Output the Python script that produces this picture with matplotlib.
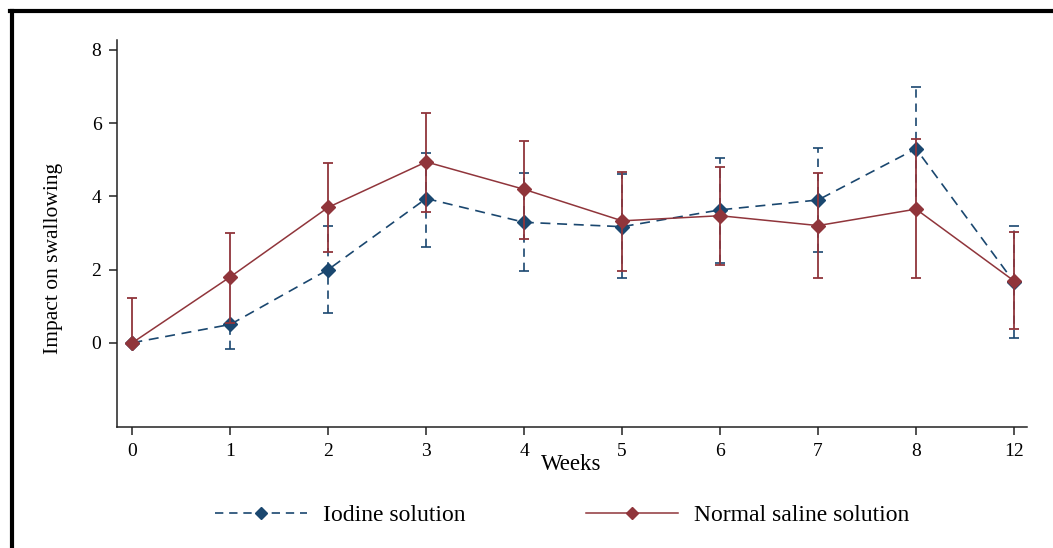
import numpy as np
import matplotlib
matplotlib.use('Agg')
from matplotlib import pyplot as plt
from matplotlib.lines import Line2D

weeks = ['0', '1', '2', '3', '4', '5', '6', '7', '8', '12']

iodine_mean = [0.0, 0.50, 2.00, 3.94, 3.29, 3.17, 3.63, 3.90, 5.30, 1.66]
iodine_low = [0.0, 0.68, 1.20, 1.32, 1.32, 1.41, 1.44, 1.41, 1.69, 1.54]
iodine_high = [0.0, 0.0, 1.20, 1.25, 1.35, 1.44, 1.41, 1.41, 1.69, 1.53]

saline_mean = [0.0, 1.80, 3.70, 4.94, 4.19, 3.33, 3.47, 3.20, 3.65, 1.69]
saline_low = [0.0, 1.25, 1.22, 1.36, 1.36, 1.37, 1.35, 1.44, 1.89, 1.32]
saline_high = [1.21, 1.21, 1.22, 1.34, 1.33, 1.34, 1.34, 1.45, 1.91, 1.34]

blue = '#1a476f'
red = '#90353b'

plt.rcParams['font.family'] = ['Liberation Serif', 'DejaVu Serif']

fig = plt.figure(figsize=(10.53, 5.48), dpi=100)
ax = fig.add_axes([116.7/1053, 1 - 427.3/548, 910/1053, 387.3/548])

x = np.arange(len(weeks))

eb1 = ax.errorbar(x, iodine_mean, yerr=[iodine_low, iodine_high], color=blue,
                  ecolor=blue, linestyle=(0, (6, 4)), linewidth=1.2,
                  marker='D', markersize=7, capsize=3.8, elinewidth=1.2,
                  capthick=1.2, zorder=2)
eb1[2][0].set_linestyle((0, (5, 3.5)))

ax.errorbar(x, saline_mean, yerr=[saline_low, saline_high], color=red,
            ecolor=red, linestyle='-', linewidth=1.1, marker='D',
            markersize=7, capsize=3.8, elinewidth=1.3, capthick=1.3, zorder=3)

ax.set_xlim(-0.16, 9.13)
ax.set_ylim(-2.31, 8.27)
ax.set_xticks(x)
ax.set_xticklabels(weeks)
ax.set_yticks([0, 2, 4, 6, 8])
ax.tick_params(axis='both', labelsize=14, length=6, width=1.1, color='#222222', pad=5)
for s in ['top', 'right']:
    ax.spines[s].set_visible(False)
for s in ['left', 'bottom']:
    ax.spines[s].set_linewidth(1.1)
    ax.spines[s].set_color('#222222')

ax.set_xlabel('Weeks', fontsize=16.5)
ax.xaxis.set_label_coords(0.5, -0.097)
ax.xaxis.label.set_va('center')
ax.set_ylabel('Impact on swallowing', fontsize=15.5)
ax.yaxis.set_label_coords(-0.07, 0.437)
ax.yaxis.label.set_va('center')

handles = [Line2D([], [], color=blue, linestyle=(0, (5, 3.5)), linewidth=1.2,
                  marker='D', markersize=6.5),
           Line2D([], [], color=red, linestyle='-', linewidth=1.1,
                  marker='D', markersize=6.5)]
fig.legend(handles, ['Iodine solution', 'Normal saline solution'], loc='center',
           bbox_to_anchor=(0.534, 1 - 515/548), ncol=2, frameon=False,
           fontsize=17, handlelength=3.9, handletextpad=0.68, columnspacing=5.1)

# frame of the original picture
fig.add_artist(Line2D([10/1053, 1], [1 - 11/548, 1 - 11/548], color='black', linewidth=3,
                      transform=fig.transFigure))
fig.add_artist(Line2D([12/1053, 12/1053], [0, 1 - 11/548], color='black', linewidth=3,
                      transform=fig.transFigure))

fig.savefig('out.png', dpi=100)
